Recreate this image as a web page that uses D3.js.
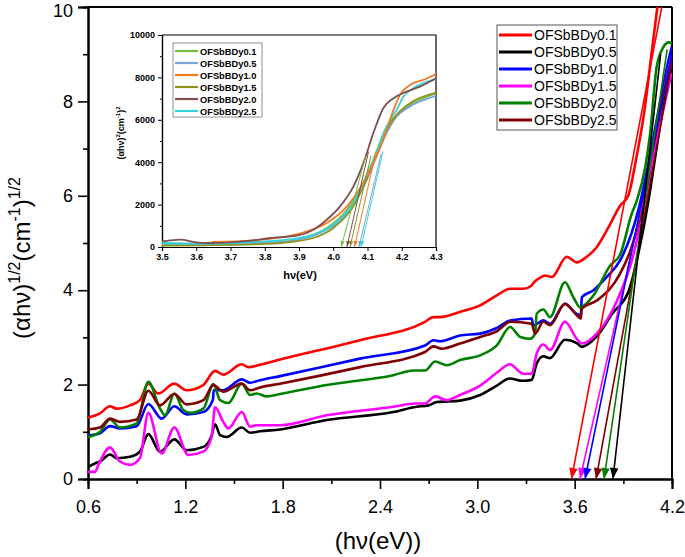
<!DOCTYPE html>
<html><head><meta charset="utf-8">
<script src="https://cdn.jsdelivr.net/npm/d3@7"></script>
<style>
body{margin:0;background:#fff;}
svg{display:block;font-family:"Liberation Sans",Arial,sans-serif;}
</style></head>
<body><svg id="chart" width="685" height="557"></svg>
<script>
// ---------- main chart data ----------
const seriesNames = ["OFSbBDy0.1","OFSbBDy0.5","OFSbBDy1.0","OFSbBDy1.5","OFSbBDy2.0","OFSbBDy2.5"];
const seriesColors = ["#ff0000","#000000","#0000ff","#ff00ff","#008000","#800000"];
const xMajorTicks = [0.6,1.2,1.8,2.4,3.0,3.6,4.2];
const xMinorTicks = [0.9,1.5,2.1,2.7,3.3,3.9];
const yMajorTicks = [0,2,4,6,8,10];
const yMinorTicks = [1,3,5,7,9];

const ofs01 = [[0.6,1.30],[0.674,1.39],[0.736,1.54],[0.777,1.49],[0.859,1.56],[0.92,1.67],[0.972,2.02],[1.033,1.81],[1.132,2.02],[1.208,1.88],[1.31,1.99],[1.383,2.29],[1.434,2.21],[1.548,2.43],[1.588,2.37],[1.66,2.42],[1.784,2.53],[2.277,2.94],[2.678,3.33],[2.729,3.43],[2.77,3.43],[2.893,3.54],[3.017,3.68],[3.12,3.89],[3.202,4.03],[3.284,4.03],[3.335,4.10],[3.345,4.15],[3.376,4.24],[3.418,4.31],[3.459,4.28],[3.551,4.71],[3.613,4.59],[3.675,4.71],[3.736,4.91],[3.808,5.33],[3.88,5.79],[3.93,6.0],[3.98,6.8],[4.03,7.8],[4.07,8.9],[4.11,10.0],[4.13,10.5]];
const ofs05 = [[0.6,0.25],[0.643,0.33],[0.674,0.37],[0.736,0.52],[0.777,0.44],[0.859,0.47],[0.92,0.58],[0.972,0.95],[1.044,0.58],[1.132,0.84],[1.208,0.61],[1.311,0.68],[1.362,0.92],[1.383,1.16],[1.414,0.93],[1.455,0.89],[1.548,1.09],[1.599,0.98],[1.66,1.01],[1.784,1.05],[2.071,1.25],[2.482,1.42],[2.626,1.53],[2.698,1.56],[2.75,1.63],[2.893,1.66],[3.017,1.78],[3.12,1.98],[3.2,2.13],[3.28,2.08],[3.335,2.10],[3.366,2.45],[3.407,2.6],[3.448,2.56],[3.54,2.95],[3.613,2.88],[3.644,2.8],[3.736,3.02],[3.833,3.51],[3.935,4.0],[4.0,4.9],[4.05,5.8],[4.1,6.9],[4.15,8.0],[4.2,9.0]];
const ofs10 = [[0.6,0.92],[0.674,0.97],[0.736,1.12],[0.797,1.07],[0.9,1.12],[0.972,1.59],[1.054,1.28],[1.132,1.54],[1.208,1.37],[1.311,1.42],[1.37,1.68],[1.375,1.88],[1.434,1.88],[1.548,2.11],[1.599,2.04],[1.66,2.09],[1.784,2.18],[2.277,2.55],[2.678,2.83],[2.729,2.94],[2.77,2.92],[2.893,3.04],[3.017,3.08],[3.12,3.2],[3.202,3.36],[3.335,3.4],[3.345,3.25],[3.407,3.36],[3.448,3.29],[3.54,3.71],[3.613,3.5],[3.638,3.47],[3.644,3.85],[3.716,4.0],[3.798,4.28],[3.88,4.63],[3.95,5.2],[4.0,5.8],[4.05,6.6],[4.1,7.5],[4.15,8.4],[4.18,8.9],[4.2,9.17]];
const ofs15 = [[0.6,0.15],[0.643,0.15],[0.664,0.3],[0.736,0.67],[0.797,0.37],[0.859,0.3],[0.92,0.44],[0.972,1.40],[1.054,0.54],[1.132,1.09],[1.218,0.51],[1.311,0.58],[1.362,0.89],[1.383,1.52],[1.434,1.21],[1.465,1.07],[1.548,1.42],[1.599,1.11],[1.64,1.14],[1.784,1.14],[2.071,1.35],[2.482,1.53],[2.616,1.6],[2.678,1.6],[2.74,1.75],[2.812,1.67],[2.893,1.78],[3.017,1.98],[3.12,2.25],[3.2,2.43],[3.284,2.23],[3.335,2.23],[3.366,2.66],[3.407,2.85],[3.448,2.73],[3.54,3.33],[3.613,2.97],[3.644,2.87],[3.736,3.08],[3.798,3.36],[3.88,3.93],[3.95,4.6],[4.0,5.3],[4.05,6.2],[4.1,7.2],[4.15,8.2],[4.2,8.96]];
const ofs20 = [[0.6,0.89],[0.674,1.0],[0.736,1.26],[0.797,1.09],[0.9,1.18],[0.972,2.06],[1.044,1.49],[1.075,1.35],[1.132,1.81],[1.187,1.46],[1.229,1.40],[1.311,1.49],[1.373,2.01],[1.414,1.67],[1.465,1.61],[1.548,2.02],[1.599,1.78],[1.64,1.81],[1.702,1.75],[1.784,1.8],[2.071,1.99],[2.482,2.2],[2.606,2.3],[2.678,2.3],[2.74,2.49],[2.812,2.41],[2.893,2.52],[3.017,2.62],[3.12,2.83],[3.202,3.22],[3.264,3.01],[3.325,2.97],[3.356,3.08],[3.366,3.5],[3.407,3.59],[3.448,3.43],[3.54,4.17],[3.592,3.85],[3.633,3.64],[3.716,3.89],[3.818,4.52],[3.88,4.75],[3.95,5.6],[3.983,5.9],[4.035,6.6],[4.065,7.31],[4.105,8.72],[4.145,9.14],[4.18,9.25],[4.2,9.22]];
const ofs25 = [[0.6,1.05],[0.674,1.09],[0.736,1.28],[0.797,1.21],[0.9,1.26],[0.972,1.87],[1.044,1.56],[1.132,1.80],[1.208,1.58],[1.311,1.67],[1.373,1.99],[1.434,1.85],[1.548,2.02],[1.599,1.88],[1.66,1.94],[1.784,2.02],[2.277,2.37],[2.678,2.69],[2.729,2.81],[2.78,2.76],[2.893,2.87],[3.017,3.01],[3.12,3.13],[3.202,3.33],[3.335,3.29],[3.356,3.08],[3.407,3.33],[3.448,3.26],[3.54,3.71],[3.613,3.47],[3.638,3.40],[3.644,3.61],[3.736,3.78],[3.88,4.35],[3.95,4.9],[4.0,5.5],[4.05,6.3],[4.1,7.3],[4.15,8.2],[4.2,8.9]];
const mainSeries = [ofs01, ofs05, ofs10, ofs15, ofs20, ofs25];

// tangent (Tauc) lines: x-intercept (band gap) and upper end
const tangentIntercepts = [3.58, 3.836, 3.664, 3.633, 3.781, 3.732];
const tangentTopX = [4.137, 4.13, 4.2, 4.2, 4.17, 4.2];
const tangentTopY = [10, 9.0, 9.0, 8.6, 9.1, 8.8];
const drawOrder = [0, 1, 2, 3, 4, 5];
const arrowOrder = [0, 3, 2, 5, 4, 1];

// ---------- inset data ----------
const insetNames = ["OFSbBDy0.1","OFSbBDy0.5","OFSbBDy1.0","OFSbBDy1.5","OFSbBDy2.0","OFSbBDy2.5"];
const insetColors = ["#73bf45","#7ba4d6","#f37a22","#8d9520","#7e4f50","#33d3d9"];
const insetXTicks = [3.5,3.6,3.7,3.8,3.9,4.0,4.1,4.2,4.3];
const insetYTicks = [0,2000,4000,6000,8000,10000];
const insetYMinor = [1000,3000,5000,7000,9000];
const in01 = [[3.5,110],[3.62,110],[3.767,157],[3.865,267],[3.923,471],[3.981,895],[4.04,1758],[4.078,2700],[4.117,4113],[4.156,5683],[4.185,6233],[4.224,6704],[4.3,7253]];
const in05 = [[3.5,157],[3.62,140],[3.767,190],[3.865,267],[3.961,659],[4.04,1601],[4.098,3171],[4.146,5055],[4.185,6154],[4.224,6625],[4.3,7128]];
const in10 = [[3.645,235],[3.767,314],[3.865,502],[3.923,738],[3.981,1130],[4.04,1915],[4.098,3328],[4.146,5055],[4.176,6468],[4.195,7175],[4.224,7646],[4.263,7881],[4.3,8164]];
const in15 = [[3.5,63],[3.767,126],[3.865,220],[3.942,424],[4.0,895],[4.059,1915],[4.117,3956],[4.156,5526],[4.185,6233],[4.224,6782],[4.3,7285]];
const in20 = [[3.5,267],[3.524,314],[3.553,345],[3.6,220],[3.64,188],[3.767,314],[3.816,424],[3.894,534],[3.942,816],[3.981,1287],[4.02,1915],[4.059,2857],[4.088,3956],[4.117,5369],[4.146,6547],[4.176,7018],[4.214,7332],[4.253,7567],[4.3,7960]];
const in25 = [[3.5,188],[3.62,157],[3.767,235],[3.865,345],[3.942,581],[4.0,1052],[4.059,2072],[4.117,4113],[4.166,5997],[4.185,6468],[4.205,7096],[4.234,7489],[4.3,7913]];
const insetSeries = [in01, in05, in10, in15, in20, in25];
const insetIntercepts = [4.023, 4.075, 4.062, 4.049, 4.04, 4.081];
const insetTopX = [4.095, 4.14, 4.125, 4.11, 4.103, 4.145];
const insetTopY = [4300, 4400, 4500, 4300, 4500, 4500];

// ---------- drawing ----------
const svg = d3.select("#chart");
const x = d3.scaleLinear().domain([0.6, 4.2]).range([88, 672]);
const y = d3.scaleLinear().domain([0, 10]).range([479, 7]);

svg.append("defs").append("clipPath").attr("id","plotClip")
  .append("rect").attr("x",88).attr("y",7).attr("width",584).attr("height",472);

// axes
const gx = svg.append("g").attr("transform","translate(0,479)")
  .call(d3.axisBottom(x).tickValues(xMajorTicks).tickSize(10).tickPadding(5).tickFormat(d3.format(".1f")));
const gxm = svg.append("g").attr("transform","translate(0,479)")
  .call(d3.axisBottom(x).tickValues(xMinorTicks).tickSize(5).tickFormat(""));
const gy = svg.append("g").attr("transform","translate(88,0)")
  .call(d3.axisLeft(y).tickValues(yMajorTicks).tickSize(10).tickPadding(5).tickFormat(d3.format("d")));
const gym = svg.append("g").attr("transform","translate(88,0)")
  .call(d3.axisLeft(y).tickValues(yMinorTicks).tickSize(5).tickFormat(""));
[gx,gxm,gy,gym].forEach(g=>{
  g.selectAll("path").attr("stroke","#000").attr("stroke-width",2);
  g.selectAll("line").attr("stroke","#000").attr("stroke-width",1.6);
  g.selectAll("text").attr("font-size",18).attr("fill","#000").attr("font-family","'Liberation Sans',Arial,sans-serif");
});
gx.selectAll("text").attr("dy","1.05em");
gy.selectAll("text").filter(d=>d===10).attr("dy","0.52em");
// box top/right
svg.append("line").attr("x1",x(0.6)).attr("x2",x(4.2)).attr("y1",y(10)).attr("y2",y(10)).attr("stroke","#000").attr("stroke-width",2);
svg.append("line").attr("x1",x(4.2)).attr("x2",x(4.2)).attr("y1",y(10)).attr("y2",y(0)).attr("stroke","#000").attr("stroke-width",2);

// axis titles
svg.append("text").attr("x",378).attr("y",549).attr("text-anchor","middle").attr("font-size",24).text("(hν(eV))");
const yt = svg.append("text").attr("transform","translate(30,258) rotate(-90)").attr("text-anchor","middle").attr("font-size",24);
yt.append("tspan").text("(αhν)");
yt.append("tspan").attr("font-size",16).attr("dy",-10).text("1/2");
yt.append("tspan").attr("dy",10).text("(cm");
yt.append("tspan").attr("font-size",16).attr("dy",-10).text("-1");
yt.append("tspan").attr("dy",10).text(")");
yt.append("tspan").attr("font-size",16).attr("dy",-10).text("1/2");

// curves
const line = d3.line().x(d=>x(d[0])).y(d=>y(d[1])).curve(d3.curveMonotoneX);
const plot = svg.append("g").attr("clip-path","url(#plotClip)");
drawOrder.forEach(i=>{
  plot.append("path").datum(mainSeries[i]).attr("d",line)
    .attr("fill","none").attr("stroke",seriesColors[i]).attr("stroke-width",2.6).attr("stroke-linejoin","round");
});
// tangents with arrowheads
arrowOrder.forEach(i=>{
  const x0 = x(tangentIntercepts[i]), y0 = y(0);
  const x1 = x(tangentTopX[i]), y1 = y(tangentTopY[i]);
  plot.append("line").attr("x1",x0).attr("y1",y0).attr("x2",x1).attr("y2",y1)
    .attr("stroke",seriesColors[i]).attr("stroke-width",1.6);
  const ang = Math.atan2(y0-y1, x0-x1);
  const L = 11, W = 4.2;
  const bx = x0 - L*Math.cos(ang), by = y0 - L*Math.sin(ang);
  const px = -Math.sin(ang)*W, py = Math.cos(ang)*W;
  svg.append("path").attr("d",`M${x0},${y0}L${bx+px},${by+py}L${bx-px},${by-py}Z`).attr("fill",seriesColors[i]);
});

// legend
const leg = svg.append("g");
leg.append("rect").attr("x",497).attr("y",25).attr("width",120).attr("height",105)
  .attr("fill","#fff").attr("stroke","#555").attr("stroke-width",1);
seriesNames.forEach((n,i)=>{
  const ly = 35 + i*17;
  leg.append("line").attr("x1",499).attr("x2",532).attr("y1",ly).attr("y2",ly).attr("stroke",seriesColors[i]).attr("stroke-width",3);
  leg.append("text").attr("x",534).attr("y",ly+5).attr("font-size",14).text(n);
});

// ---------- inset ----------
const xi = d3.scaleLinear().domain([3.5, 4.3]).range([162, 436]);
const yi = d3.scaleLinear().domain([0, 10000]).range([247, 35]);
const inset = svg.append("g");
inset.append("rect").attr("x",162).attr("y",35).attr("width",274).attr("height",212).attr("fill","#fff");
svg.append("defs").append("clipPath").attr("id","insetClip")
  .append("rect").attr("x",162).attr("y",35).attr("width",274).attr("height",212);
const gix = inset.append("g").attr("transform","translate(0,247)")
  .call(d3.axisBottom(xi).tickValues(insetXTicks).tickSize(4).tickPadding(3).tickFormat(d3.format(".1f")));
const giy = inset.append("g").attr("transform","translate(162,0)")
  .call(d3.axisLeft(yi).tickValues(insetYTicks).tickSize(4).tickPadding(3).tickFormat(d3.format("d")));
const giym = inset.append("g").attr("transform","translate(162,0)")
  .call(d3.axisLeft(yi).tickValues(insetYMinor).tickSize(2).tickFormat(""));
[gix,giy,giym].forEach(g=>{
  g.selectAll("path").attr("stroke","#000").attr("stroke-width",1.2);
  g.selectAll("line").attr("stroke","#000").attr("stroke-width",1);
  g.selectAll("text").attr("font-size",9).attr("font-weight","bold").attr("fill","#000").attr("font-family","'Liberation Sans',Arial,sans-serif");
});
inset.append("line").attr("x1",162).attr("x2",436).attr("y1",35).attr("y2",35).attr("stroke","#000").attr("stroke-width",1.2);
inset.append("line").attr("x1",436).attr("x2",436).attr("y1",35).attr("y2",247).attr("stroke","#000").attr("stroke-width",1.2);
inset.append("text").attr("x",300).attr("y",279).attr("text-anchor","middle").attr("font-size",11).attr("font-weight","bold").text("hν(eV)");
const iyt = inset.append("text").attr("transform","translate(124,133) rotate(-90)").attr("text-anchor","middle")
  .attr("font-size",9).attr("font-weight","bold");
iyt.append("tspan").text("(αhν)");
iyt.append("tspan").attr("font-size",6).attr("dy",-4).text("2");
iyt.append("tspan").attr("dy",4).text("(cm");
iyt.append("tspan").attr("font-size",6).attr("dy",-4).text("-1");
iyt.append("tspan").attr("dy",4).text(")");
iyt.append("tspan").attr("font-size",6).attr("dy",-4).text("2");

const iline = d3.line().x(d=>xi(d[0])).y(d=>yi(d[1])).curve(d3.curveMonotoneX);
const iplot = inset.append("g").attr("clip-path","url(#insetClip)");
[0,1,3,5,2,4].forEach(i=>{
  iplot.append("path").datum(insetSeries[i]).attr("d",iline)
    .attr("fill","none").attr("stroke",insetColors[i]).attr("stroke-width",1.8);
});
insetIntercepts.forEach((ic,i)=>{
  const x0 = xi(ic), y0 = yi(0), x1 = xi(insetTopX[i]), y1 = yi(insetTopY[i]);
  iplot.append("line").attr("x1",x0).attr("y1",y0).attr("x2",x1).attr("y2",y1)
    .attr("stroke",insetColors[i]).attr("stroke-width",1);
  const ang = Math.atan2(y0-y1, x0-x1);
  const L = 6, W = 2;
  const bx = x0 - L*Math.cos(ang), by = y0 - L*Math.sin(ang);
  const px = -Math.sin(ang)*W, py = Math.cos(ang)*W;
  inset.append("path").attr("d",`M${x0},${y0}L${bx+px},${by+py}L${bx-px},${by-py}Z`).attr("fill",insetColors[i]);
});
const ileg = inset.append("g");
ileg.append("rect").attr("x",173).attr("y",43).attr("width",89).attr("height",74)
  .attr("fill","#fff").attr("stroke","#777").attr("stroke-width",0.8);
insetNames.forEach((n,i)=>{
  const ly = 51 + i*12;
  ileg.append("line").attr("x1",175).attr("x2",198).attr("y1",ly).attr("y2",ly).attr("stroke",insetColors[i]).attr("stroke-width",2.2);
  ileg.append("text").attr("x",200).attr("y",ly+3.5).attr("font-size",9.3).attr("font-weight","bold").text(n);
});
</script></body></html>
